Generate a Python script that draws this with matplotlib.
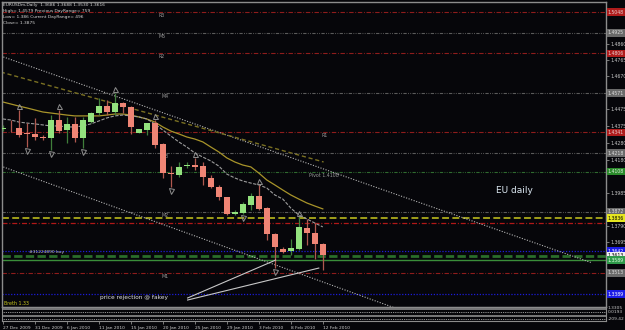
import matplotlib
matplotlib.use('Agg')
import matplotlib.pyplot as plt
import matplotlib.transforms as mtransforms
import numpy as np

# ---------------- data ----------------
date_labels = ['27 Dec 2009', '31 Dec 2009', '6 Jan 2010', '11 Jan 2010', '15 Jan 2010',
               '20 Jan 2010', '25 Jan 2010', '29 Jan 2010', '3 Feb 2010', '8 Feb 2010', '12 Feb 2010']
label_step = 4

opens  = [1.4362, 1.4368, 1.4366, 1.4333, 1.4331, 1.4313, 1.4307, 1.4413, 1.4354, 1.4390,
          1.4307, 1.4401, 1.4454, 1.4495, 1.4460, 1.4513, 1.4490, 1.4337, 1.4354, 1.4395,
          1.4272, 1.4101, 1.4089, 1.4143, 1.4148, 1.4143, 1.4072, 1.4019, 1.3960, 1.3860,
          1.3866, 1.3913, 1.3966, 1.3896, 1.3743, 1.3654, 1.3642, 1.3654, 1.3778, 1.3749,
          1.3686]
highs  = [1.4384, 1.4413, 1.4472, 1.4395, 1.4425, 1.4325, 1.4442, 1.4472, 1.4431, 1.4431,
          1.4431, 1.4460, 1.4542, 1.4531, 1.4572, 1.4519, 1.4493, 1.4362, 1.4397, 1.4413,
          1.4278, 1.4143, 1.4166, 1.4166, 1.4190, 1.4166, 1.4089, 1.4031, 1.3962, 1.3884,
          1.3931, 1.3984, 1.4031, 1.3902, 1.3749, 1.3666, 1.3713, 1.3843, 1.3831, 1.3807,
          1.3688]
lows   = [1.4348, 1.4342, 1.4313, 1.4254, 1.4295, 1.4295, 1.4236, 1.4337, 1.4278, 1.4284,
          1.4248, 1.4395, 1.4442, 1.4442, 1.4442, 1.4454, 1.4331, 1.4335, 1.4325, 1.4248,
          1.4072, 1.4019, 1.4078, 1.4131, 1.4119, 1.4031, 1.4013, 1.3942, 1.3854, 1.3854,
          1.3860, 1.3884, 1.3884, 1.3707, 1.3543, 1.3631, 1.3619, 1.3648, 1.3678, 1.3596,
          1.3530]
closes = [1.4366, 1.4364, 1.4325, 1.4330, 1.4313, 1.4307, 1.4413, 1.4348, 1.4390, 1.4307,
          1.4413, 1.4454, 1.4495, 1.4460, 1.4513, 1.4490, 1.4372, 1.4360, 1.4395, 1.4266,
          1.4101, 1.4095, 1.4137, 1.4148, 1.4137, 1.4078, 1.4019, 1.3960, 1.3860, 1.3872,
          1.3919, 1.3966, 1.3890, 1.3743, 1.3666, 1.3637, 1.3660, 1.3784, 1.3749, 1.3684,
          1.3616]

ma_slow = [1.4519, 1.4507, 1.4495, 1.4484, 1.4472, 1.4460, 1.4454, 1.4448, 1.4442, 1.4437,
           1.4437, 1.4437, 1.4437, 1.4442, 1.4448, 1.4448, 1.4442, 1.4431, 1.4419, 1.4401,
           1.4372, 1.4348, 1.4331, 1.4313, 1.4301, 1.4284, 1.4254, 1.4225, 1.4190, 1.4166,
           1.4148, 1.4137, 1.4101, 1.4060, 1.4031, 1.4001, 1.3972, 1.3948, 1.3925, 1.3907,
           1.3890]
ma_fast = [1.4419, 1.4413, 1.4401, 1.4395, 1.4390, 1.4384, 1.4378, 1.4378, 1.4372, 1.4372,
           1.4378, 1.4390, 1.4407, 1.4425, 1.4437, 1.4442, 1.4437, 1.4431, 1.4419, 1.4390,
           1.4354, 1.4319, 1.4284, 1.4254, 1.4219, 1.4195, 1.4172, 1.4142, 1.4095, 1.4072,
           1.4054, 1.4042, 1.4031, 1.4013, 1.3972, 1.3948, 1.3895, 1.3854, 1.3831, 1.3807,
           1.3784]

up_fractal_bars = [2, 7, 14, 19, 24, 32, 37]
down_fractal_bars = [3, 6, 10, 21, 30, 34]

# horizontal levels: price, kind, left-label text
level_prices = [1.5048, 1.4925, 1.4806, 1.4571, 1.4341, 1.4218, 1.4108, 1.3872,
                1.3836, 1.3807, 1.3642, 1.3613, 1.3589, 1.3513, 1.3389]
level_kinds  = ['res', 'mid', 'res', 'mid', 'res', 'mid', 'piv', 'mid',
                'yel', 'red', 'blue', 'order', 'green', 'res_g', 'blue']
level_names  = ['R3', 'M5', 'R2', 'M4', 'R1', 'M3', 'Pivot 1.4108', 'M2',
                '', '', '', '', '', 'M1', '']
level_label_bar = [19.5, 19.5, 19.5, 19.8, 39.8, 19.8, 38.3, 19.8,
                   0, 0, 0, 0, 0, 19.8, 0]

# trend lines: (bar0, price0, bar1, price1)
trend_dotted = [(-0.25, 1.4789, 73.5, 1.3575), (-0.25, 1.4142, 49.75, 1.3295)]
trend_olive = [(-0.25, 1.4695, 40.1, 1.4166)]
annot_lines = [(23.1, 1.3366, 34.1, 1.3589), (23.1, 1.3354, 39.5, 1.3542)]

tick_prices = [1.4860, 1.4765, 1.4670, 1.4475, 1.4375, 1.4280, 1.4180, 1.3985, 1.3790, 1.3695]

header_lines = ['EURUSDm,Daily  1.3686 1.3688 1.3530 1.3616',
                'High= 1.4579 Previous DayRange= 759',
                'Low= 1.386 Current DayRange= 496',
                'Close= 1.3875']
sub_values = ['1.3305', '0.0193', '-209.42']

# ---------------- figure ----------------
W, H = 625, 330
BG = '#06060a'
fig = plt.figure(figsize=(W / 100, H / 100), dpi=100)
fig.patch.set_facecolor(BG)

def fx(px):
    return px / W

def fy(py):
    return 1 - py / H

ax = fig.add_axes([fx(2), fy(307), fx(606) - fx(2), fy(2) - fy(307)])
ax.set_facecolor(BG)
ax.set_xlim(-0.1, 75.4)
ax.set_ylim(1.3313, 1.5107)
for s in ax.spines.values():
    s.set_color('#8c8c8c')
    s.set_linewidth(1.0)

# horizontal levels
styles = {
    'res':   dict(color='#8e1c1c', lw=0.8, dashes=(4, 1.5, 0.8, 1.5)),
    'res_g': dict(color='#8e1c1c', lw=0.8, dashes=(4, 1.5, 0.8, 1.5)),
    'red':   dict(color='#b01818', lw=0.9, dashes=(4, 1.5, 0.8, 1.5)),
    'mid':   dict(color='#5a5a5a', lw=0.8, dashes=(3, 1.2, 0.8, 1.2, 0.8, 1.2)),
    'piv':   dict(color='#2f6a2f', lw=0.8, dashes=(3, 1.2, 0.8, 1.2, 0.8, 1.2)),
    'yel':   dict(color='#c9c81e', lw=1.1, dashes=(4.5, 2.2)),
    'blue':  dict(color='#1c1cd8', lw=0.9, dashes=(1, 1.3)),
    'order': dict(color='#2a6e2a', lw=2.0, dashes=(3, 1.2)),
    'green': dict(color='#3a8e3a', lw=1.0),
}
box_style = {
    'res': ('#b01c1c', '#e8d0d0'), 'res_g': ('#6a6a6a', '#e0e0e0'),
    'mid': ('#6a6a6a', '#e0e0e0'), 'piv': ('#2a8a2a', '#e0f0e0'),
    'yel': ('#e6e620', '#000000'), 'blue': ('#1c1ce6', '#ffffff'),
    'order': ('#f0f0f0', '#000000'), 'green': ('#2e9a4a', '#e0ffe0'),
}
rt = mtransforms.blended_transform_factory(ax.transAxes, ax.transData)
for p, k, n, lb in zip(level_prices, level_kinds, level_names, level_label_bar):
    ax.axhline(p, zorder=1, **styles[k])
    if n:
        ax.text(lb, p - 0.0006, n, color='#9a9a9a', fontsize=3.4, va='top', ha='left', zorder=2)

# trend lines
for (b0, p0, b1, p1) in trend_dotted:
    ax.plot([b0, b1], [p0, p1], color='#b4b4b4', lw=0.8, dashes=(1, 1.4), zorder=2)
for (b0, p0, b1, p1) in trend_olive:
    ax.plot([b0, b1], [p0, p1], color='#7a7022', lw=1.0, dashes=(3, 2), zorder=2)

# moving averages
xb = np.arange(len(opens))
ax.plot(xb, ma_slow, color='#a8942a', lw=0.9, zorder=2)
ax.plot(xb, ma_fast, color='#9c9c9c', lw=0.8, dashes=(3, 1.3), zorder=2)

# candles
o = np.array(opens); h = np.array(highs); l = np.array(lows); c = np.array(closes)
up = c >= o
bb = np.minimum(o, c)
bh = np.maximum(np.abs(c - o), 0.00045)
ax.vlines(xb[up], l[up], h[up], color='#3f7e3a', lw=0.9, zorder=3)
ax.vlines(xb[~up], l[~up], h[~up], color='#b0584f', lw=0.9, zorder=3)
ax.bar(xb[up], bh[up], bottom=bb[up], width=0.72, color='#93e27e', edgecolor='none', zorder=4)
ax.bar(xb[~up], bh[~up], bottom=bb[~up], width=0.72, color='#ef8575', edgecolor='none', zorder=4)

# fractals
tr_up = mtransforms.offset_copy(ax.transData, fig=fig, y=4, units='dots')
tr_dn = mtransforms.offset_copy(ax.transData, fig=fig, y=-4, units='dots')
ax.plot(up_fractal_bars, [highs[i] for i in up_fractal_bars], linestyle='none', marker='^',
        ms=3.6, mfc='none', mec='#8e8e8e', mew=0.7, transform=tr_up, zorder=5)
ax.plot(down_fractal_bars, [lows[i] for i in down_fractal_bars], linestyle='none', marker='v',
        ms=3.6, mfc='none', mec='#8e8e8e', mew=0.7, transform=tr_dn, zorder=5)

# annotation lines and texts
for (b0, p0, b1, p1) in annot_lines:
    ax.plot([b0, b1], [p0, p1], color='#c8c8c8', lw=0.8, zorder=6)
ax.text(12.1, 1.3366, 'price rejection @ fakey', color='#e2e2e2', fontsize=4.2,
        va='center', ha='left', zorder=7)
ax.text(61.6, 1.4000, 'EU daily', color='#dce8f2', fontsize=6.5, va='center', ha='left', zorder=7)
ax.text(3.3, 1.3625, '#31224890 buy', color='#c8c8c8', fontsize=3.2, va='bottom', ha='left', zorder=7)
ax.text(0.1, 1.3335, 'Breth 1.33', color='#c9c81e', fontsize=3.4, va='center', ha='left', zorder=7)

# header
for i, t in enumerate(header_lines):
    fig.text(fx(3), fy(5.3 + 6 * i), t, color='#d4d4d4', fontsize=3.2, va='center', ha='left')

# right axis ticks
ax.yaxis.tick_right()
ax.set_yticks(tick_prices)
ax.set_yticklabels([f'{t:.4f}' for t in tick_prices])
ax.tick_params(axis='y', colors='#c8c8c8', labelsize=3.3, length=2, width=0.6, pad=1)
ax.tick_params(axis='y', which='both', color='#8c8c8c')
ax.set_xticks([])

# right value boxes
for p, k in zip(level_prices, level_kinds):
    if k in box_style:
        bg, fg = box_style[k]
        ax.text(1.003, p, f'{p:.4f}', transform=rt, color=fg, fontsize=3.3, va='center',
                ha='left', zorder=8, clip_on=False,
                bbox=dict(boxstyle='square,pad=0.25', fc=bg, ec='none'))

# ---------------- sub panel ----------------
sub = fig.add_axes([fx(2), fy(321), fx(606) - fx(2), fy(307) - fy(321)])
sub.set_facecolor(BG)
sub.set_xlim(ax.get_xlim())
sub.set_ylim(0, 1)
for s in sub.spines.values():
    s.set_color('#8c8c8c')
    s.set_linewidth(0.8)
sub.axhline(0.86, color='#8c8c8c', lw=1.2)
sub.axhline(0.62, color='#c8c8c8', lw=0.6, dashes=(1, 1.2))
sub.axhline(0.36, color='#8c8c8c', lw=1.2)
sub.axhline(0.14, color='#c8c8c8', lw=0.6, dashes=(1, 1.2))
for yv, t in zip([0.92, 0.62, 0.12], sub_values):
    sub.text(1.003, yv, t, transform=sub.transAxes, color='#c8c8c8', fontsize=3.2,
             va='center', ha='left', clip_on=False)
sub.set_yticks([])
sub.set_xticks(np.arange(len(date_labels)) * label_step)
sub.set_xticklabels(date_labels, ha='left')
sub.tick_params(axis='x', colors='#d0d0d0', labelsize=3.2, length=2, width=0.6, pad=1.5)
sub.tick_params(axis='x', color='#8c8c8c')

fig.savefig('out.png', dpi=100, facecolor=BG)
